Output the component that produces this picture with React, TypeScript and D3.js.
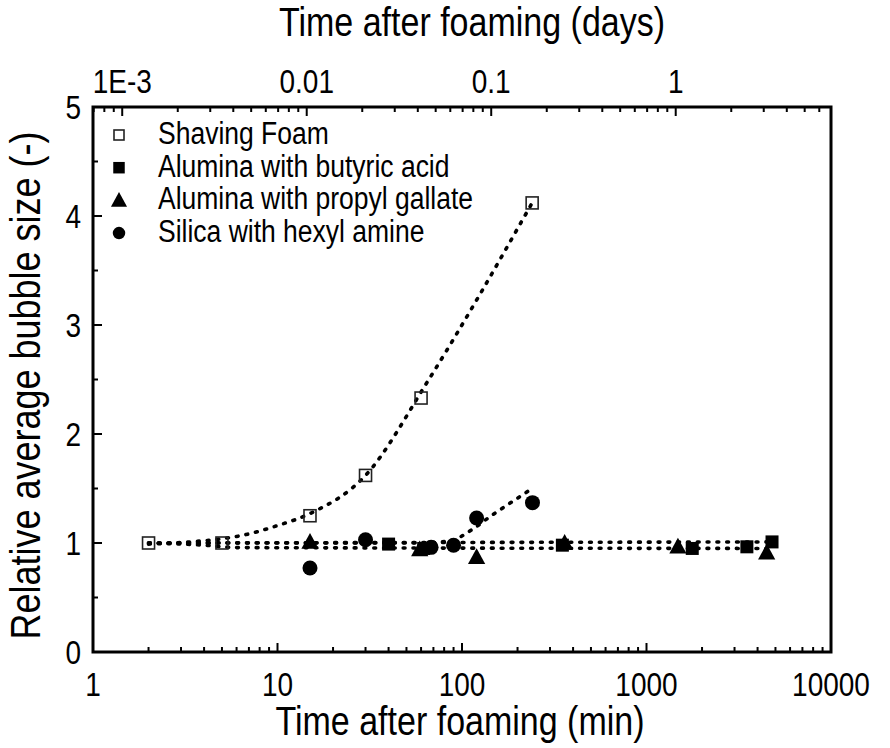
import React from "react";
import * as d3 from "d3";

const W = 890;
const H = 748;
const margin = { left: 93, right: 59, top: 107, bottom: 96 };

// Data (time in minutes, relative average bubble size)
const foamT = [2, 5, 15, 30, 60, 240];
const foamY = [1.0, 1.0, 1.25, 1.62, 2.33, 4.12];

const butyricT = [40, 62, 350, 1770, 3500, 4790];
const butyricY = [0.99, 0.95, 0.98, 0.95, 0.965, 1.01];

const propylT = [15, 59, 120, 360, 1480, 4480];
const propylY = [1.01, 0.94, 0.87, 1.0, 0.965, 0.91];

const silicaT = [15, 30, 68, 90, 120, 241];
const silicaY = [0.77, 1.03, 0.96, 0.98, 1.23, 1.37];

// Dotted guide curves
const foamFitT = [2, 6, 10, 15, 30, 65, 128, 217, 240];
const foamFitY = [0.99, 1.06, 1.16, 1.27, 1.62, 2.48, 3.31, 3.99, 4.12];
const butyricFitT = [2, 4800];
const butyricFitY = [1.0, 1.01];
const propylFitT = [2, 4, 6, 4500];
const propylFitY = [1.0, 0.98, 0.958, 0.95];
const silicaFitT = [2, 60, 86, 115, 144, 180, 240];
const silicaFitY = [1.0, 1.0, 1.02, 1.13, 1.25, 1.36, 1.5];

const xMajor = [1, 10, 100, 1000, 10000];
const xMajorLabels = ["1", "10", "100", "1000", "10000"];
const yMajor = [0, 1, 2, 3, 4, 5];
const topMajorDays = [0.001, 0.01, 0.1, 1];
const topMajorLabels = ["1E-3", "0.01", "0.1", "1"];

const legendLabels = [
  "Shaving Foam",
  "Alumina with butyric acid",
  "Alumina with propyl gallate",
  "Silica with hexyl amine",
];
const legendShapes = ["openSquare", "square", "triangle", "circle"];

const FONT = "'Liberation Sans', Arial, sans-serif";
const SY = 1.17;

function T({ x, y, size, anchor, children, rotate }: any) {
  const tr = rotate
    ? `translate(${x},${y}) rotate(${rotate}) scale(1,${SY})`
    : `translate(${x},${y}) scale(1,${SY})`;
  return (
    <text transform={tr} x={0} y={0} fontSize={size} textAnchor={anchor || "start"} fill="#000">
      {children}
    </text>
  );
}

function Marker({ shape, x, y, s }: { shape: string; x: number; y: number; s: number }) {
  if (shape === "openSquare")
    return <rect x={x - s / 2} y={y - s / 2} width={s} height={s} fill="none" stroke="#222" strokeWidth={1.6} />;
  if (shape === "square")
    return <rect x={x - s / 2} y={y - s / 2} width={s} height={s} fill="#000" />;
  if (shape === "triangle") {
    const h = s * 1.0;
    const w = s * 1.15;
    return <path d={`M${x},${y - h * 0.6}L${x + w / 2},${y + h * 0.45}L${x - w / 2},${y + h * 0.45}Z`} fill="#000" />;
  }
  return <circle cx={x} cy={y} r={s / 2} fill="#000" />;
}

export default function App() {
  const x = d3.scaleLog().domain([1, 10000]).range([margin.left, W - margin.right]);
  const y = d3.scaleLinear().domain([0, 5]).range([H - margin.bottom, margin.top]);
  const x0 = margin.left, x1 = W - margin.right, y0 = H - margin.bottom, y1 = margin.top;

  const line = d3
    .line<[number, number]>()
    .x((d) => x(d[0]))
    .y((d) => y(d[1]))
    .curve(d3.curveMonotoneX);

  const fits = [
    [foamFitT, foamFitY],
    [butyricFitT, butyricFitY],
    [propylFitT, propylFitY],
    [silicaFitT, silicaFitY],
  ] as const;

  const bottomMinor: number[] = [];
  for (let e = 0; e < 4; e++) for (let m = 2; m <= 9; m++) bottomMinor.push(m * Math.pow(10, e));
  const topMinorDays: number[] = [];
  for (let e = -4; e <= 0; e++) for (let m = 2; m <= 9; m++) topMinorDays.push(m * Math.pow(10, e));
  const topMinorMin = topMinorDays.map((d) => d * 1440).filter((t) => t >= 1 && t <= 10000);
  const yMinor = [0.5, 1.5, 2.5, 3.5, 4.5];

  const series = [
    { shape: "square", t: butyricT, v: butyricY, s: 13 },
    { shape: "triangle", t: propylT, v: propylY, s: 15 },
    { shape: "circle", t: silicaT, v: silicaY, s: 15 },
    { shape: "openSquare", t: foamT, v: foamY, s: 12 },
  ];

  const legendX = 119;
  const legendY0 = 135;
  const legendDy = 32.7;

  return (
    <svg width={W} height={H} style={{ position: "absolute", left: 0, top: 0, background: "#fff" }} fontFamily={FONT}>
      <rect width={W} height={H} fill="#fff" />
      {fits.map(([ts, vs], i) => (
        <path
          key={i}
          d={line(ts.map((t, j) => [t, vs[j]] as [number, number])) || ""}
          fill="none"
          stroke="#000"
          strokeWidth={3.6}
          strokeLinecap="round"
          strokeDasharray="1.8 8"
        />
      ))}
      {series.map((se, i) =>
        se.t.map((t, j) => <Marker key={`${i}-${j}`} shape={se.shape} x={x(t)} y={y(se.v[j])} s={se.s} />)
      )}
      <rect x={x0} y={y1} width={x1 - x0} height={y0 - y1} fill="none" stroke="#000" strokeWidth={3} />
      {xMajor.map((t) => (
        <line key={`bM${t}`} x1={x(t)} x2={x(t)} y1={y0} y2={y0 - 9} stroke="#000" strokeWidth={2} />
      ))}
      {bottomMinor.map((t) => (
        <line key={`bm${t}`} x1={x(t)} x2={x(t)} y1={y0} y2={y0 - 5} stroke="#000" strokeWidth={2} />
      ))}
      {xMajor.map((t, i) => (
        <T key={`bl${t}`} x={x(t)} y={y0 + 44} size={28} anchor="middle">
          {xMajorLabels[i]}
        </T>
      ))}
      {topMajorDays.map((d) => (
        <line key={`tM${d}`} x1={x(d * 1440)} x2={x(d * 1440)} y1={y1} y2={y1 + 9} stroke="#000" strokeWidth={2} />
      ))}
      {topMinorMin.map((t) => (
        <line key={`tm${t}`} x1={x(t)} x2={x(t)} y1={y1} y2={y1 + 5} stroke="#000" strokeWidth={2} />
      ))}
      {topMajorDays.map((d, i) => (
        <T key={`tl${d}`} x={x(d * 1440)} y={y1 - 14} size={28} anchor="middle">
          {topMajorLabels[i]}
        </T>
      ))}
      {yMajor.map((v) => (
        <line key={`lM${v}`} x1={x0} x2={x0 + 9} y1={y(v)} y2={y(v)} stroke="#000" strokeWidth={2} />
      ))}
      {yMinor.map((v) => (
        <line key={`lm${v}`} x1={x0} x2={x0 + 5} y1={y(v)} y2={y(v)} stroke="#000" strokeWidth={2} />
      ))}
      {yMajor.map((v) => (
        <T key={`ll${v}`} x={x0 - 12} y={y(v) + 12} size={28} anchor="end">
          {v}
        </T>
      ))}
      <T x={(x0 + x1) / 2 - 2} y={H - 13} size={34} anchor="middle">
        Time after foaming (min)
      </T>
      <T x={(x0 + x1) / 2 + 10} y={36} size={34} anchor="middle">
        Time after foaming (days)
      </T>
      <T x={40} y={(y0 + y1) / 2 + 6} size={36} anchor="middle" rotate={-90}>
        Relative average bubble size (-)
      </T>
      {legendLabels.map((lab, i) => (
        <g key={lab}>
          <Marker
            shape={legendShapes[i]}
            x={legendX}
            y={legendY0 + i * legendDy}
            s={legendShapes[i] === "triangle" ? 14 : legendShapes[i] === "circle" ? 12.5 : legendShapes[i] === "square" ? 11.5 : 10}
          />
          <T x={158} y={legendY0 + i * legendDy + 9} size={26.5}>
            {lab}
          </T>
        </g>
      ))}
    </svg>
  );
}
